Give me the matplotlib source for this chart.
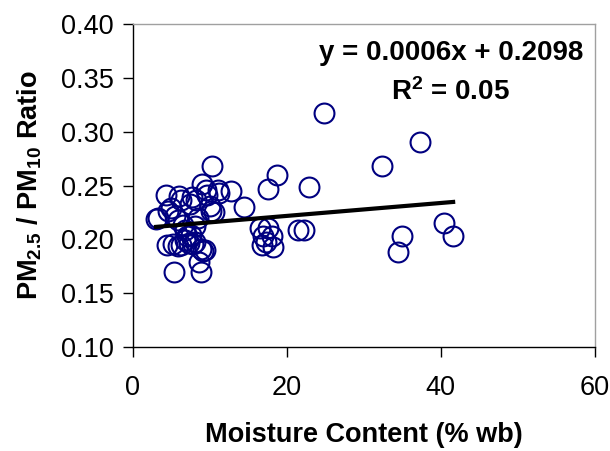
import matplotlib
matplotlib.use("Agg")
import matplotlib.pyplot as plt
import numpy as np

plt.rcParams['font.family'] = ['Liberation Sans', 'DejaVu Sans']
plt.rcParams['mathtext.fontset'] = 'custom'
plt.rcParams['mathtext.rm'] = 'Liberation Sans:bold'
plt.rcParams['mathtext.bf'] = 'Liberation Sans:bold'
plt.rcParams['mathtext.it'] = 'Liberation Sans:bold'

moisture = [3.0, 3.3, 4.3, 4.6, 5.0, 5.5, 4.4, 5.2, 5.8, 6.2, 5.3, 6.0, 6.3, 5.8, 6.5,
            6.8, 7.0, 6.7, 7.3, 7.6, 7.8, 8.0, 7.4, 7.7, 8.2, 8.5, 8.0, 8.8, 9.1, 9.3,
            8.6, 8.9, 9.0, 9.5, 9.6, 10.3, 10.0, 10.2, 10.5, 11.0, 11.2, 12.8, 14.4,
            16.5, 17.6, 16.9, 18.0, 16.7, 17.3, 18.2, 17.6, 18.7, 21.5, 22.2, 22.9,
            24.8, 32.3, 37.3, 34.5, 35.0, 40.4, 41.6]
ratio = [0.219, 0.220, 0.241, 0.226, 0.229, 0.222, 0.195, 0.196, 0.194, 0.195, 0.170,
         0.240, 0.237, 0.218, 0.213, 0.209, 0.203, 0.199, 0.197, 0.204, 0.196, 0.198,
         0.233, 0.239, 0.237, 0.220, 0.212, 0.191, 0.189, 0.190, 0.179, 0.170, 0.251,
         0.246, 0.241, 0.268, 0.231, 0.226, 0.225, 0.246, 0.243, 0.245, 0.230,
         0.211, 0.211, 0.203, 0.203, 0.195, 0.198, 0.193, 0.247, 0.260, 0.209, 0.209,
         0.249, 0.317, 0.268, 0.290, 0.188, 0.203, 0.215, 0.203]
slope = 0.0006
intercept = 0.2098
r2 = 0.05
xticks = [0, 20, 40, 60]
yticks = [0.10, 0.15, 0.20, 0.25, 0.30, 0.35, 0.40]

fig = plt.figure(figsize=(6.10, 4.51), dpi=100)
ax = fig.add_axes([0.218, 0.2306, 0.757, 0.716])

ax.plot(moisture, ratio, linestyle='none', marker='o', markersize=14.3,
        markerfacecolor='none', markeredgecolor='#000080', markeredgewidth=1.5)
xl = np.array([min(moisture), max(moisture)])
ax.plot(xl, slope * xl + intercept, color='black', linewidth=3.0)

ax.set_xlim(0, 60)
ax.set_ylim(0.10, 0.40)
ax.set_xticks(xticks)
ax.set_xticklabels([str(v) for v in xticks])
ax.set_yticks(yticks)
ax.set_yticklabels([f"{v:.2f}" for v in yticks])
ax.tick_params(axis='both', labelsize=19.5, direction='out', length=7, width=1, color='black')
ax.tick_params(axis='x', pad=13)
ax.tick_params(axis='y', pad=7)

for s in ['left', 'bottom']:
    ax.spines[s].set_color('black')
    ax.spines[s].set_linewidth(1.0)
for s in ['top', 'right']:
    ax.spines[s].set_color('#a0a0a0')
    ax.spines[s].set_linewidth(1.0)

ax.set_xlabel('Moisture Content (% wb)', fontsize=19.5, fontweight='bold', labelpad=15)
ax.set_ylabel(r'PM$_{2.5}$ / PM$_{10}$ Ratio', fontsize=19.5, fontweight='bold', labelpad=12)

ax.text(41.3, 0.3735, f'y = {slope:.4f}x + {intercept:.4f}', ha='center', va='center',
        fontsize=20, fontweight='bold')
ax.text(41.3, 0.337, r'R$^{2}$' + f' = {r2:.2f}', ha='center', va='center',
        fontsize=20, fontweight='bold')

fig.savefig('out.png', dpi=100)
